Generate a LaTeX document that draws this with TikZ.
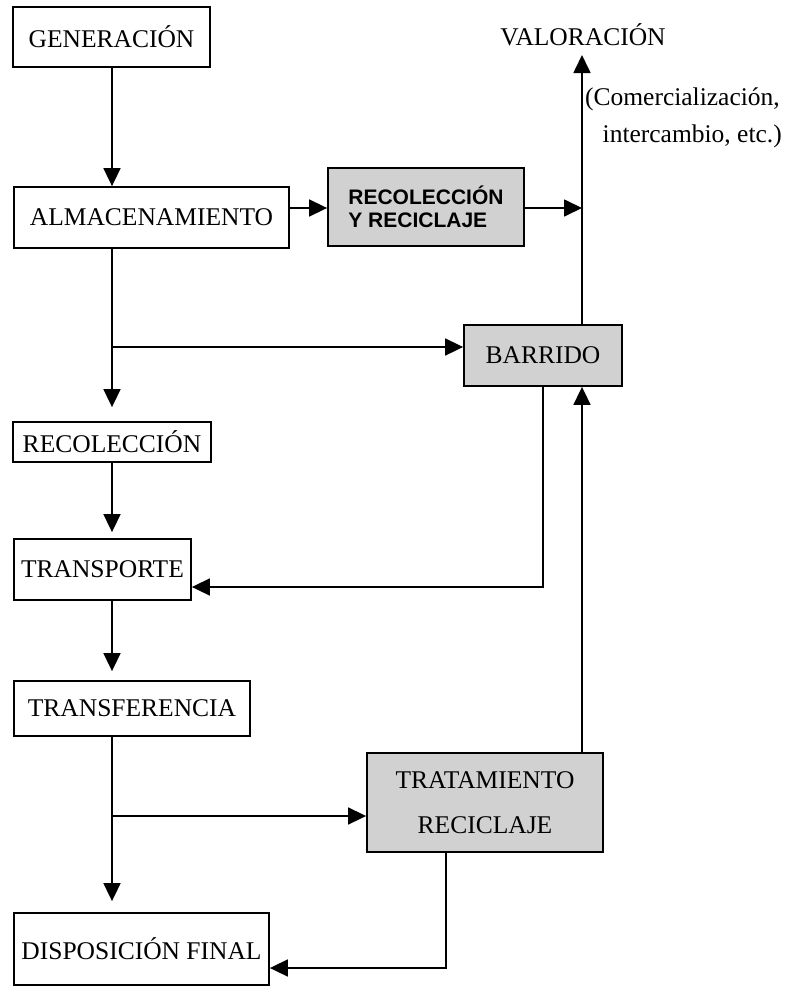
\documentclass[tikz,border=0pt]{standalone}
\usepackage{fontspec}
\setmainfont{Liberation Serif}
\setsansfont{Liberation Sans}
\usetikzlibrary{arrows.meta}
\begin{document}
\begin{tikzpicture}[x=1pt,y=-1pt,
  box/.style={draw, line width=1.8pt, inner sep=0pt, font=\fontsize{25.5}{30}\selectfont},
  grybox/.style={box, fill=black!18},
  arr/.style={line width=1.7pt, -{Triangle[length=18pt,width=17pt]}},
  ln/.style={line width=1.7pt},
  lbl/.style={inner sep=0pt, font=\fontsize{25.5}{30}\selectfont}]
\useasboundingbox (0,0) rectangle (788,988);

% main boxes
\node[box, minimum width=197pt, minimum height=60pt] (gen) at (111.5,37) {GENERACIÓN};
\node[box, minimum width=275pt, minimum height=61pt] (alm) at (151.5,217.5) {ALMACENAMIENTO};
\node[grybox, minimum width=196pt, minimum height=78pt, align=left,
      font=\sffamily\bfseries\fontsize{21}{23.5}\selectfont] (ryr) at (426,207) {RECOLECCIÓN\\Y RECICLAJE};
\node[box, minimum width=198pt, minimum height=40pt] (rec) at (112,442) {RECOLECCIÓN};
\node[box, minimum width=177pt, minimum height=61pt] (transp) at (102.5,569.5) {TRANSPORTE};
\node[box, minimum width=236pt, minimum height=55pt] (transf) at (132,708.5) {TRANSFERENCIA};
\node[box, minimum width=255pt, minimum height=72pt] (disp) at (141.5,949) {DISPOSICIÓN FINAL};
\node[grybox, minimum width=158pt, minimum height=61pt] (barr) at (543,355.5) {BARRIDO};
\node[grybox, minimum width=236pt, minimum height=99pt, align=center,
      font=\fontsize{25.5}{45}\selectfont] (trat) at (485,802.5) {TRATAMIENTO\\RECICLAJE};

% labels
\node[lbl, anchor=base] (val) at (583,45) {VALORACIÓN};
\node[lbl, anchor=base east] (com1) at (780,105) {(Comercialización,};
\node[lbl, anchor=base east] (com2) at (782,142) {intercambio, etc.)};

% helper coordinates
\coordinate (spine) at (112,0);
\coordinate (vx) at (582,0);
\coordinate (valtip) at (582,55);
\coordinate (b1) at (112,347);
\coordinate (b2) at (112,816);
\coordinate (yr) at (0,208);
\coordinate (yt) at (0,587);
\coordinate (yd) at (0,968);
\coordinate (bcorner) at (543,587);
\coordinate (tcorner) at (446,968);

% main spine
\draw[arr] (gen.south -| spine) -- (alm.north -| spine);
\draw[arr, shorten >=14pt] (alm.south -| spine) -- (rec.north -| spine);
\draw[arr, shorten >=6pt] (rec.south -| spine) -- (transp.north -| spine);
\draw[arr, shorten >=9pt] (transp.south -| spine) -- (transf.north -| spine);
\draw[arr, shorten >=11pt] (transf.south -| spine) -- (disp.north -| spine);

% branches
\draw[arr] (b1) -- (b1 -| barr.west);
\draw[arr] (b2) -- (b2 -| trat.west);
\draw[arr] (alm.east |- yr) -- (ryr.west |- yr);
\draw[arr] (ryr.east |- yr) -- (vx |- yr);

% right vertical
\draw[arr] (barr.north -| vx) -- (valtip);
\draw[arr] (trat.north -| vx) -- (barr.south -| vx);

% returns
\draw[arr] (barr.south) -- (bcorner) -- (transp.east |- yt);
\draw[arr] (trat.south -| tcorner) -- (tcorner) -- (disp.east |- yd);
\end{tikzpicture}
\end{document}
